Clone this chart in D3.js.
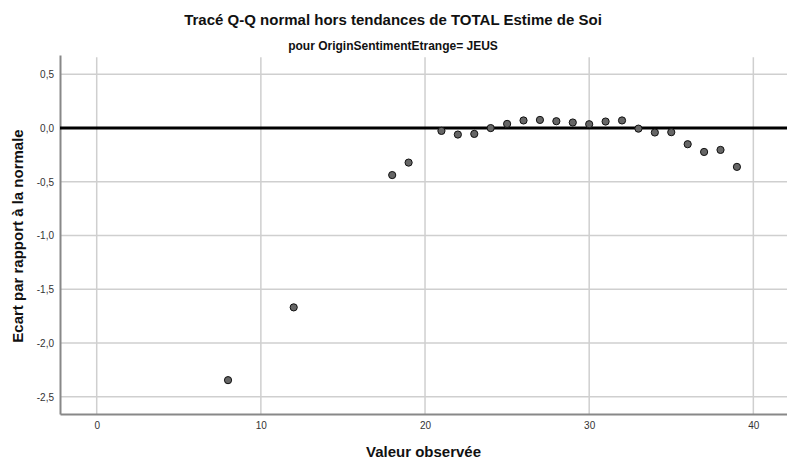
<!DOCTYPE html>
<html>
<head>
<meta charset="utf-8">
<script src="https://cdn.jsdelivr.net/npm/d3@7"></script>
<style>
body { margin: 0; background: #fff; }
text { font-family: Arial, "Liberation Sans", sans-serif; }
</style>
</head>
<body>
<script>
var observed = [8, 12, 18, 19, 21, 22, 23, 24, 25, 26, 27, 28, 29, 30, 31, 32, 33, 34, 35, 36, 37, 38, 39];
var deviation = [-2.345, -1.668, -0.437, -0.321, -0.026, -0.060, -0.054, 0.0, 0.039, 0.071, 0.076, 0.064, 0.052, 0.036, 0.061, 0.071, -0.005, -0.041, -0.038, -0.150, -0.222, -0.203, -0.361];
var xTicks = [0, 10, 20, 30, 40];
var yTicks = [0.5, 0, -0.5, -1.0, -1.5, -2.0, -2.5];

var W = 787, H = 459;
var margin = {top: 55, right: 0, bottom: 45, left: 60};

var x = d3.scaleLinear().domain([-2.236, 42.05]).range([margin.left, W - margin.right]);
var y = d3.scaleLinear().domain([-2.66, 0.68]).range([H - margin.bottom, margin.top]);

var svg = d3.select("body").append("svg")
    .attr("width", W)
    .attr("height", H);

// grid
svg.append("g")
    .selectAll("line")
    .data(xTicks)
    .enter().append("line")
    .attr("x1", function(d) { return x(d); })
    .attr("x2", function(d) { return x(d); })
    .attr("y1", y(0.66))
    .attr("y2", H - margin.bottom)
    .attr("stroke", "#cfcfcf")
    .attr("stroke-width", 1.5);

svg.append("g")
    .selectAll("line")
    .data(yTicks)
    .enter().append("line")
    .attr("x1", margin.left)
    .attr("x2", W - margin.right)
    .attr("y1", function(d) { return y(d); })
    .attr("y2", function(d) { return y(d); })
    .attr("stroke", "#cfcfcf")
    .attr("stroke-width", 1.5);

// axes
var fmt = function(d) { return d3.format(".1f")(d).replace(".", ",").replace("−", "-"); };

var xAxis = svg.append("g")
    .attr("transform", "translate(0," + (H - margin.bottom) + ")")
    .call(d3.axisBottom(x).tickValues(xTicks).tickSize(0).tickPadding(8));
xAxis.select(".domain").attr("stroke", "#888").attr("stroke-width", 2);
xAxis.selectAll("text").attr("font-size", "10px").attr("fill", "#333");

var yAxis = svg.append("g")
    .attr("transform", "translate(" + margin.left + ",0)")
    .call(d3.axisLeft(y).tickValues(yTicks).tickFormat(fmt).tickSize(0).tickPadding(6));
yAxis.select(".domain").attr("stroke", "#888").attr("stroke-width", 2);
yAxis.selectAll("text").attr("font-size", "10px").attr("fill", "#333");

// reference line at zero
svg.append("line")
    .attr("x1", margin.left)
    .attr("x2", W - margin.right)
    .attr("y1", y(0))
    .attr("y2", y(0))
    .attr("stroke", "#000")
    .attr("stroke-width", 3);

// points
svg.append("g")
    .selectAll("circle")
    .data(observed)
    .enter().append("circle")
    .attr("cx", function(d) { return x(d); })
    .attr("cy", function(d, i) { return y(deviation[i]); })
    .attr("r", 3.6)
    .attr("fill", "#666")
    .attr("stroke", "#111")
    .attr("stroke-width", 1);

// titles
svg.append("text")
    .attr("x", 393)
    .attr("y", 25)
    .attr("text-anchor", "middle")
    .attr("font-size", "15px")
    .attr("font-weight", "bold")
    .attr("fill", "#111")
    .text("Tracé Q-Q normal hors tendances de TOTAL Estime de Soi");

svg.append("text")
    .attr("x", 393)
    .attr("y", 50)
    .attr("text-anchor", "middle")
    .attr("font-size", "12px")
    .attr("font-weight", "bold")
    .attr("fill", "#111")
    .text("pour OriginSentimentEtrange= JEUS");

svg.append("text")
    .attr("x", (margin.left + W - margin.right) / 2)
    .attr("y", 457)
    .attr("text-anchor", "middle")
    .attr("font-size", "15px")
    .attr("font-weight", "bold")
    .attr("fill", "#111")
    .text("Valeur observée");

svg.append("text")
    .attr("transform", "translate(23," + 236 + ") rotate(-90)")
    .attr("text-anchor", "middle")
    .attr("font-size", "15px")
    .attr("font-weight", "bold")
    .attr("fill", "#111")
    .text("Ecart par rapport à la normale");
</script>
</body>
</html>
